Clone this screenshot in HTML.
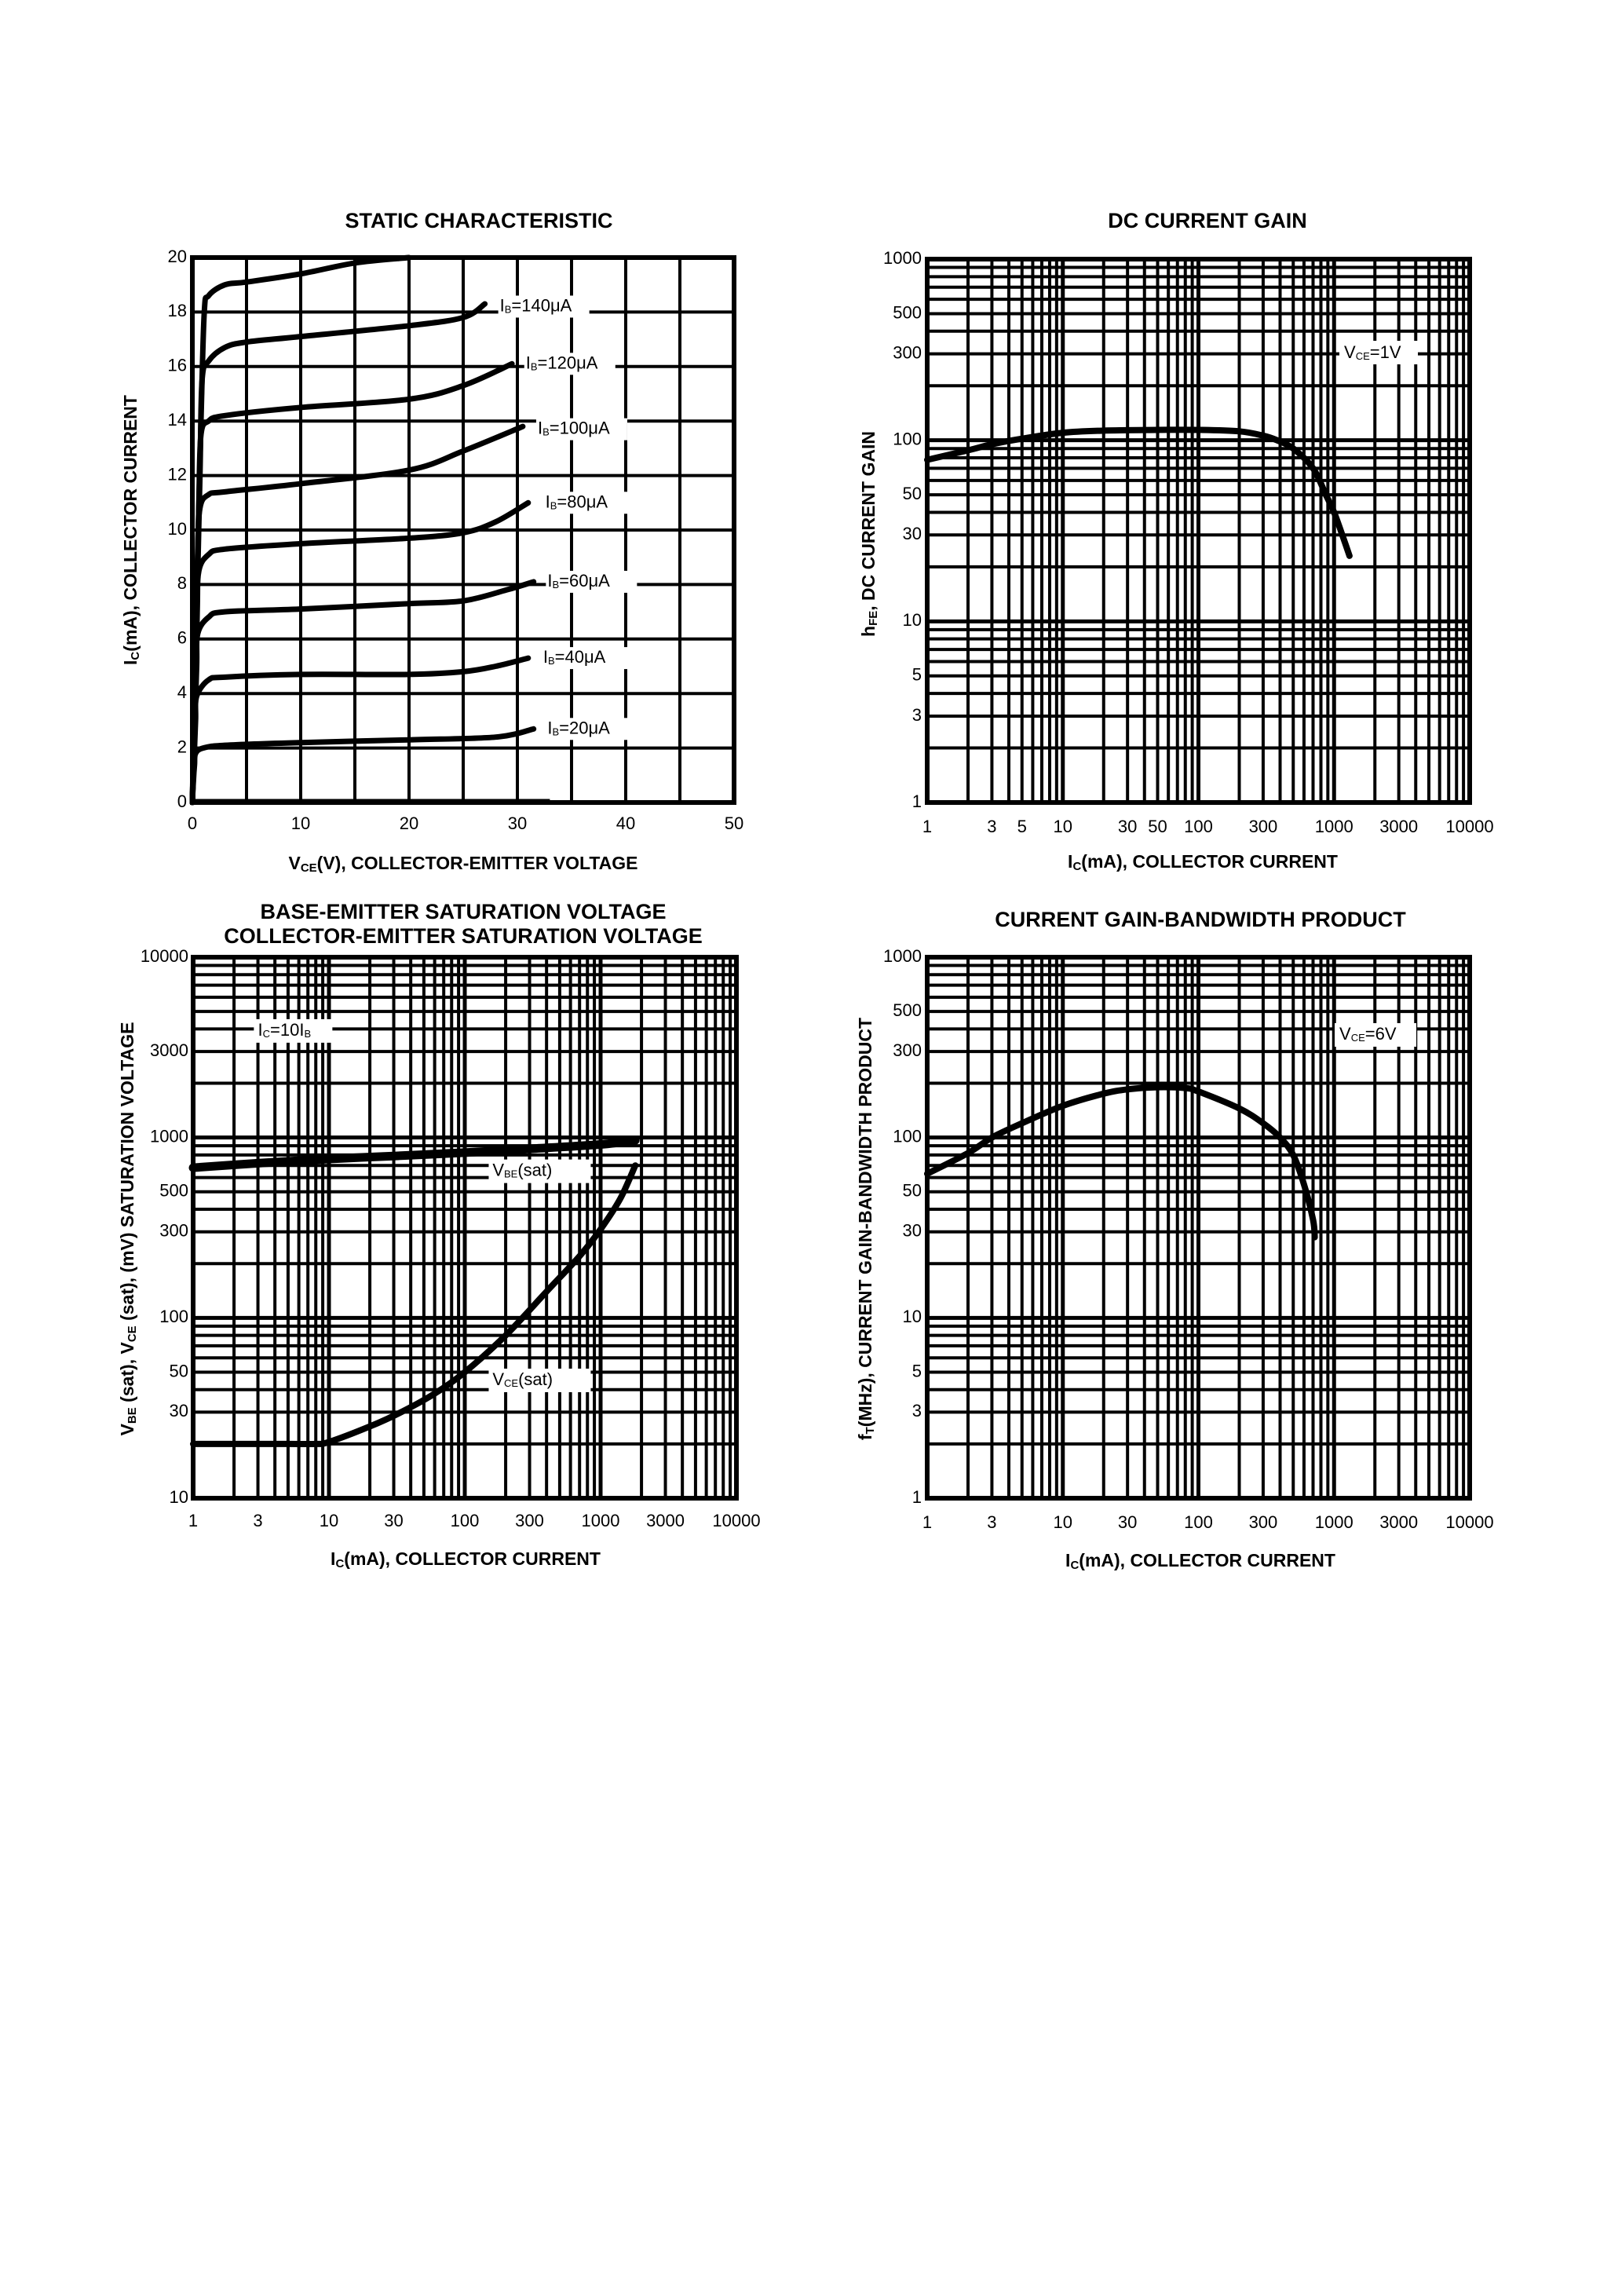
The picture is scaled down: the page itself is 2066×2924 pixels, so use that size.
<!DOCTYPE html>
<html><head><meta charset="utf-8"><title>Transistor characteristics</title>
<style>
html,body{margin:0;padding:0;background:#fff;}
svg{display:block;}
text{font-family:"Liberation Sans",Arial,sans-serif;fill:#000;}
.t{font-weight:bold;font-size:27px;}
.ax{font-weight:bold;font-size:23px;}
.tk{font-size:22px;}
.lb{font-size:22px;}
</style></head>
<body>
<svg id="page" width="2066" height="2924" viewBox="0 0 2066 2924" xmlns="http://www.w3.org/2000/svg">
<rect width="2066" height="2924" fill="#fff"/>
</svg>
<script>
// ---------- DATA ----------
const staticCurveNames = ["IB=160uA","IB=140uA","IB=120uA","IB=100uA","IB=80uA","IB=60uA","IB=40uA","IB=20uA"];
const staticVce = [
  [0,0.3,0.8,1.1,1.5,3,5,10,15,20],
  [0,0.3,0.7,0.9,1.5,3,5,10,20,25,27],
  [0,0.3,0.6,0.8,1.5,3,10,20,25,29.5],
  [0,0.3,0.5,0.7,1.5,3,10,20,25,30.5],
  [0,0.25,0.45,0.6,1.5,3,10,20,25,28,31],
  [0,0.2,0.4,0.5,1.5,3,10,20,25,29,31.5],
  [0,0.15,0.3,0.4,1.5,3,10,20,25,28,31],
  [0,0.1,0.2,0.3,1,3,10,20,28,31.5]
];
const staticIc = [
  [0,6,14,18,18.6,19,19.1,19.4,19.8,20],
  [0,5,12,15.5,16.2,16.7,16.9,17.1,17.5,17.8,18.3],
  [0,5,11,13.5,14,14.2,14.5,14.8,15.3,16.1],
  [0,4,9,10.8,11.3,11.4,11.7,12.2,12.9,13.8],
  [0,3,7,8.5,9.1,9.3,9.5,9.7,9.9,10.3,11],
  [0,2.5,5,6.2,6.8,7,7.1,7.3,7.4,7.8,8.1],
  [0,1.5,3,3.9,4.5,4.6,4.7,4.7,4.8,5,5.3],
  [0,0.8,1.4,1.8,2,2.1,2.2,2.3,2.4,2.7]
];
const staticLabels = ["","IB=140","IB=120","IB=100","IB=80","IB=60","IB=40","IB=20"];
const staticLabelV = [0,27.8,30.2,31.3,32,32.2,31.8,32.2];
const staticLabelI = [0,18.2,16.1,13.7,11,8.1,5.3,2.7];
const staticZeroV = [0,33];
const staticXTicks = [0,10,20,30,40,50];
const staticYTicks = [0,2,4,6,8,10,12,14,16,18,20];

const gainIc = [1,2,3,5,10,20,50,100,200,300,380,500,700,870,1000,1150,1300];
const gainHfe = [78,88,95,102,110,113,114,114,112,106,100,90,70,50,40,30,23];
const gainXTicks = [1,3,5,10,30,50,100,300,1000,3000,10000];
const gainYTicks = [1,3,5,10,30,50,100,300,500,1000];

const satIc = [1,3,10,30,100,300,1000,1800];
const satVbe = [680,720,760,790,825,865,915,965];
const satIcCe = [1,5,8,10,20,34,60,100,200,400,700,1000,1400,1800];
const satVce = [20,20,20,20.5,25,30,38,50,80,140,220,310,460,700];
const satXTicks = [1,3,10,30,100,300,1000,3000,10000];
const satYTicks = [10,30,50,100,300,500,1000,3000,10000];

const ftIc = [1,2,3,5,10,20,30,50,80,100,200,300,400,500,600,700,720];
const ftVal = [63,82,100,120,150,175,185,190,188,180,145,120,100,80,55,35,28];
const ftXTicks = [1,3,10,30,100,300,1000,3000,10000];
const ftYTicks = [1,3,5,10,30,50,100,300,500,1000];

// ---------- DRAWING ----------
const NS = "http://www.w3.org/2000/svg";
const svg = document.getElementById("page");
function mk(tag, attrs, parent){
  const e = document.createElementNS(NS, tag);
  for (const k in attrs) e.setAttribute(k, attrs[k]);
  (parent||svg).appendChild(e);
  return e;
}
function plot(x0,x1,y0,y1,xmin,xmax,ymin,ymax,log){
  return {x0,x1,y0,y1,xmin,xmax,ymin,ymax,log,
    sx(v){ if(log){return x0+(Math.log10(v)-Math.log10(xmin))/(Math.log10(xmax)-Math.log10(xmin))*(x1-x0);} return x0+(v-xmin)/(xmax-xmin)*(x1-x0);},
    sy(v){ if(log){return y1-(Math.log10(v)-Math.log10(ymin))/(Math.log10(ymax)-Math.log10(ymin))*(y1-y0);} return y1-(v-ymin)/(ymax-ymin)*(y1-y0);}
  };
}
function smoothPath(pts){
  if(pts.length<2) return "";
  let d = "M"+pts[0][0].toFixed(1)+","+pts[0][1].toFixed(1);
  for(let i=0;i<pts.length-1;i++){
    const p0=pts[Math.max(0,i-1)], p1=pts[i], p2=pts[i+1], p3=pts[Math.min(pts.length-1,i+2)];
    const c1x=p1[0]+(p2[0]-p0[0])/6, c1y=p1[1]+(p2[1]-p0[1])/6;
    const c2x=p2[0]-(p3[0]-p1[0])/6, c2y=p2[1]-(p3[1]-p1[1])/6;
    d+=" C"+c1x.toFixed(1)+","+c1y.toFixed(1)+" "+c2x.toFixed(1)+","+c2y.toFixed(1)+" "+p2[0].toFixed(1)+","+p2[1].toFixed(1);
  }
  return d;
}
function text(g, x, y, str, cls, anchor){
  const t = mk("text",{x:x,y:y,"class":cls,"text-anchor":anchor||"middle","dominant-baseline":"middle"},g);
  t.textContent = str;
  return t;
}
function logGrid(g,p){
  const lx0=Math.log10(p.xmin), lx1=Math.log10(p.xmax);
  for(let d=lx0; d<lx1; d++){
    for(let m=1;m<=9;m++){
      const v=m*Math.pow(10,d); if(v<=p.xmin) continue;
      const x=p.sx(v);
      const ln = mk("line",{x1:x,y1:p.y0,x2:x,y2:p.y1,stroke:"#000","stroke-width":m===1?5:4},g);
      
      
    }
  }
  const ly0=Math.log10(p.ymin), ly1=Math.log10(p.ymax);
  for(let d=ly0; d<ly1; d++){
    for(let m=1;m<=9;m++){
      const v=m*Math.pow(10,d); if(v<=p.ymin) continue;
      const y=p.sy(v);
      const ln = mk("line",{x1:p.x0,y1:y,x2:p.x1,y2:y,stroke:"#000","stroke-width":m===1?5:4},g);
      
      
    }
  }
}
function frame(g,p){
  const r = mk("rect",{x:p.x0,y:p.y0,width:p.x1-p.x0,height:p.y1-p.y0,fill:"none",stroke:"#000","stroke-width":6},g);
  
  
}
function ticks(g,p,xt,yt,xy,yx){
  xt.forEach(v=>{ const t=text(g,p.sx(v),xy,String(v),"tk");
      });
  yt.forEach(v=>{ const t=text(g,yx,p.sy(v),String(v),"tk","end");
      });
}
function curve(g,p,xs,ys,name,w){
  const pts = xs.map((v,i)=>[p.sx(v),p.sy(ys[i])]);
  const path = mk("path",{d:smoothPath(pts),fill:"none",stroke:"#000","stroke-width":w||8,"stroke-linecap":"round","stroke-linejoin":"round"},g);
  
  
  return path;
}
function labelBox(g,x,y,w,h){
  mk("rect",{x:x,y:y,width:w,height:h,fill:"#fff"},g);
}
function rotTitle(g,x,y,parts){
  const t = mk("text",{x:0,y:0,"class":"ax","text-anchor":"middle","dominant-baseline":"middle",transform:"translate("+x+","+y+") rotate(-90)"},g);
  parts.forEach(pt=>{
    const s = mk("tspan",{},t);
    if(pt.sub){ s.setAttribute("font-size","15"); s.setAttribute("dy","5"); }
    else if(pt.after){ s.setAttribute("dy","-5"); }
    s.textContent = pt.s;
  });
  return t;
}
function hTitle(g,x,y,parts){
  const t = mk("text",{x:x,y:y,"class":"ax","text-anchor":"middle","dominant-baseline":"middle"},g);
  parts.forEach(pt=>{
    const s = mk("tspan",{},t);
    if(pt.sub){ s.setAttribute("font-size","15"); s.setAttribute("dy","5"); }
    else if(pt.after){ s.setAttribute("dy","-5"); }
    s.textContent = pt.s;
  });
  return t;
}

// ===== Chart 1 =====
(function(){
  const g = mk("g",{});
  
  
  const p = plot(245,935,328,1022,0,50,0,20,false);
  for(let v=5; v<50; v+=5){ const x=p.sx(v);
    const l=mk("line",{x1:x,y1:p.y0,x2:x,y2:p.y1,stroke:"#000","stroke-width":4},g);
      }
  for(let v=2; v<20; v+=2){ const y=p.sy(v);
    const l=mk("line",{x1:p.x0,y1:y,x2:p.x1,y2:y,stroke:"#000","stroke-width":4},g);
      }
  frame(g,p);
  staticVce.forEach((xs,i)=>curve(g,p,xs,staticIc[i],"curve-"+staticCurveNames[i].toLowerCase(),7));
  const z = mk("line",{x1:p.sx(staticZeroV[0]),y1:p.sy(0)-2,x2:p.sx(staticZeroV[1]),y2:p.sy(0)-2,stroke:"#000","stroke-width":5},g);
   
  staticLabels.forEach((s,i)=>{ if(!s) return;
    const x=p.sx(staticLabelV[i])+8, y=p.sy(staticLabelI[i]);
    labelBox(g,x-2,y-14,116,28);
    const t = mk("text",{x:x,y:y,"class":"lb","dominant-baseline":"middle"},g);
     
    const a=mk("tspan",{},t); a.textContent="I";
    const b=mk("tspan",{"font-size":"13",dy:"5"},t); b.textContent="B";
    const c=mk("tspan",{dy:"-5"},t); c.textContent="="+s.slice(3)+"\u03BCA";
  });
  ticks(g,p,staticXTicks,staticYTicks,1050,238);
  const tt=text(g,610,283,"STATIC CHARACTERISTIC","t");  
  const xa=hTitle(g,590,1101,[{s:"V"},{s:"CE",sub:true},{s:"(V), COLLECTOR-EMITTER VOLTAGE",after:true}]);
   
  const ya=rotTitle(g,168,675,[{s:"I"},{s:"C",sub:true},{s:"(mA), COLLECTOR CURRENT",after:true}]);
   
})();

// ===== Chart 2 =====
(function(){
  const g = mk("g",{});
  
  
  const p = plot(1181,1872,330,1022,1,10000,1,1000,true);
  logGrid(g,p); frame(g,p);
  curve(g,p,gainIc,gainHfe,"hfe-curve",8);
  labelBox(g,1706,434,100,30);
  const t = mk("text",{x:1712,y:450,"class":"lb","dominant-baseline":"middle"},g);
   
  let s=mk("tspan",{},t); s.textContent="V"; s=mk("tspan",{"font-size":"13",dy:"5"},t); s.textContent="CE"; s=mk("tspan",{dy:"-5"},t); s.textContent="=1V";
  ticks(g,p,gainXTicks,gainYTicks,1054,1174);
  const tt=text(g,1538,283,"DC CURRENT GAIN","t");  
  const xa=hTitle(g,1532,1099,[{s:"I"},{s:"C",sub:true},{s:"(mA), COLLECTOR CURRENT",after:true}]);
   
  const ya=rotTitle(g,1108,680,[{s:"h"},{s:"FE",sub:true},{s:", DC CURRENT GAIN",after:true}]);
   
})();

// ===== Chart 3 =====
(function(){
  const g = mk("g",{});
  
  
  const p = plot(246,938,1219,1908,1,10000,10,10000,true);
  logGrid(g,p); frame(g,p);
  curve(g,p,satIc,satVbe,"vbe-sat-curve",11);
  curve(g,p,satIcCe,satVce,"vce-sat-curve",8);
  labelBox(g,p.sx(150),p.sy(650)-15,130,30);
  let t = mk("text",{x:p.sx(160),y:p.sy(650),"class":"lb","dominant-baseline":"middle"},g);
   
  let s=mk("tspan",{},t); s.textContent="V"; s=mk("tspan",{"font-size":"13",dy:"5"},t); s.textContent="BE"; s=mk("tspan",{dy:"-5"},t); s.textContent="(sat)";
  labelBox(g,p.sx(150),p.sy(45)-15,130,30);
  t = mk("text",{x:p.sx(160),y:p.sy(45),"class":"lb","dominant-baseline":"middle"},g);
   
  s=mk("tspan",{},t); s.textContent="V"; s=mk("tspan",{"font-size":"13",dy:"5"},t); s.textContent="CE"; s=mk("tspan",{dy:"-5"},t); s.textContent="(sat)";
  labelBox(g,p.sx(2.8),p.sy(3900)-15,100,30);
  t = mk("text",{x:p.sx(3),y:p.sy(3900),"class":"lb","dominant-baseline":"middle"},g);
   
  s=mk("tspan",{},t); s.textContent="I"; s=mk("tspan",{"font-size":"13",dy:"5"},t); s.textContent="C"; s=mk("tspan",{dy:"-5"},t); s.textContent="=10I";
  s=mk("tspan",{"font-size":"13",dy:"5"},t); s.textContent="B";
  ticks(g,p,satXTicks,satYTicks,1938,240);
  let tt=text(g,590,1163,"BASE-EMITTER SATURATION VOLTAGE","t");  
  tt=text(g,590,1194,"COLLECTOR-EMITTER SATURATION VOLTAGE","t");  
  const xa=hTitle(g,593,1987,[{s:"I"},{s:"C",sub:true},{s:"(mA), COLLECTOR CURRENT",after:true}]);
   
  const ya=rotTitle(g,164,1565,[{s:"V"},{s:"BE",sub:true},{s:" (sat), V",after:true},{s:"CE",sub:true},{s:" (sat), (mV)  SATURATION VOLTAGE",after:true}]);
   
})();

// ===== Chart 4 =====
(function(){
  const g = mk("g",{});
  
  
  const p = plot(1181,1872,1219,1908,1,10000,1,1000,true);
  logGrid(g,p); frame(g,p);
  curve(g,p,ftIc,ftVal,"ft-curve",8);
  labelBox(g,1700,1303,104,30);
  const t = mk("text",{x:1706,y:1318,"class":"lb","dominant-baseline":"middle"},g);
   
  let s=mk("tspan",{},t); s.textContent="V"; s=mk("tspan",{"font-size":"13",dy:"5"},t); s.textContent="CE"; s=mk("tspan",{dy:"-5"},t); s.textContent="=6V";
  ticks(g,p,ftXTicks,ftYTicks,1940,1174);
  const tt=text(g,1529,1173,"CURRENT GAIN-BANDWIDTH PRODUCT","t");  
  const xa=hTitle(g,1529,1989,[{s:"I"},{s:"C",sub:true},{s:"(mA), COLLECTOR CURRENT",after:true}]);
   
  const ya=rotTitle(g,1104,1565,[{s:"f"},{s:"T",sub:true},{s:"(MHz), CURRENT GAIN-BANDWIDTH PRODUCT",after:true}]);
   
})();
</script>
</body></html>
